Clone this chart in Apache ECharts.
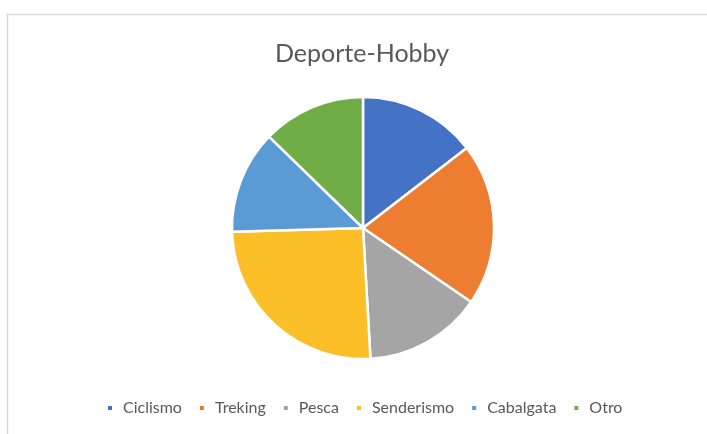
<!doctype html>
<html>
<head>
<meta charset="utf-8">
<script src="https://cdn.jsdelivr.net/npm/echarts@6/dist/echarts.min.js"></script>
<style>
  html, body { margin: 0; padding: 0; background: #fff; }
  #main { width: 707px; height: 434px; }
</style>
</head>
<body>
<div id="main"></div>
<script type="text/javascript">
var categories = ['Ciclismo', 'Treking', 'Pesca', 'Senderismo', 'Cabalgata', 'Otro'];
var values = [8, 11, 8, 14, 7, 7];
var colors = ['#4472C4', '#ED7D31', '#A5A5A5', '#FBBF28', '#5B9BD5', '#70AD47'];

var myChart = echarts.init(document.getElementById('main'));

var pieData = [];
for (var i = 0; i < categories.length; i++) {
  pieData.push({ name: categories[i], value: values[i], itemStyle: { color: colors[i] } });
}

var option = {
  animation: false,
  title: {
    text: 'Deporte-Hobby',
    left: 270,
    top: 36,
    textStyle: { fontFamily: 'Lato', fontSize: 25, fontWeight: 'normal', color: '#595959' }
  },
  legend: {
    data: categories,
    left: 101,
    top: 395,
    icon: 'rect',
    itemWidth: 6,
    itemHeight: 6,
    itemGap: 16,
    textStyle: { fontFamily: 'Lato', fontSize: 16, color: '#595959', padding: [0, 0, 0, 5] }
  },
  // chart frame (top + left edges visible)
  graphic: [{
    type: 'polyline',
    shape: { points: [[7.5, 434], [7.5, 14.5], [707, 14.5]] },
    style: { stroke: '#d9d9d9', lineWidth: 1.5, fill: null },
    silent: true
  }],
  series: [{
    type: 'pie',
    center: [363, 228],
    radius: 131,
    startAngle: 90,
    clockwise: true,
    label: { show: false },
    labelLine: { show: false },
    itemStyle: { borderColor: '#ffffff', borderWidth: 2.5 },
    emphasis: { scale: false },
    data: pieData
  }]
};

myChart.setOption(option);
</script>
</body>
</html>
